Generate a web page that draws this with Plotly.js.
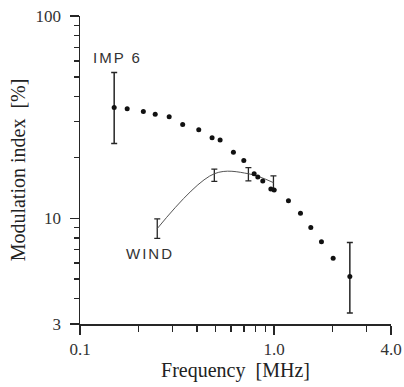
<!DOCTYPE html>
<html>
<head>
<meta charset="utf-8">
<script src="https://cdn.plot.ly/plotly-3.0.1.min.js"></script>
<style>html,body{margin:0;padding:0;background:#fff;}#chart{width:404px;height:387px;}</style>
</head>
<body>
<div id="chart"></div>
<script>
// IMP 6 measurements
var impFreq = [0.150, 0.175, 0.212, 0.244, 0.288, 0.338, 0.409, 0.479, 0.527, 0.617, 0.698, 0.789, 0.824, 0.874, 0.962, 1.0, 1.185, 1.367, 1.545, 1.753, 2.014, 2.455];
var impVal  = [35.3, 34.8, 33.7, 32.7, 31.8, 29.1, 27.4, 25.0, 24.4, 21.2, 19.3, 16.6, 16.0, 15.3, 13.95, 13.8, 12.2, 10.6, 8.99, 7.66, 6.35, 5.15];
// error bar limits (only first and last points)
var impErrFreq  = [0.150, 2.455];
var impErrVal   = [35.3, 5.15];
var impErrUpper = [52.6, 7.58];
var impErrLower = [23.4, 3.40];

// WIND measurements
var windFreq  = [0.250, 0.492, 0.737, 0.992];
var windVal   = [8.89, 16.6, 16.6, 15.0];
var windUpper = [9.92, 17.5, 17.8, 16.2];
var windLower = [7.96, 15.2, 15.3, 13.8];

// axis ticks
var xTickVals = [0.1, 1, 4];
var xTickText = ['0.1', '1.0', '4.0'];
var xMinorVals = [0.2, 0.3, 0.4, 0.5, 0.6, 0.7, 0.8, 0.9, 2, 3];
var yTickVals = [3, 10, 100];
var yTickText = ['3', '10', '100'];
var yMinorVals = [4, 5, 6, 7, 8, 9, 20, 30, 40, 50, 60, 70, 80, 90];

function diff(a, b) { return a.map(function (v, i) { return v - b[i]; }); }

var ink = '#262626';
var serif = '"Liberation Serif", "Times New Roman", serif';

var traces = [
  {
    x: windFreq, y: windVal, mode: 'lines', type: 'scatter',
    line: {shape: 'spline', smoothing: 1, color: '#555', width: 1},
    error_y: {type: 'data', symmetric: false, array: diff(windUpper, windVal), arrayminus: diff(windVal, windLower),
      color: ink, thickness: 1.3, width: 3},
    hoverinfo: 'skip', showlegend: false
  },
  {
    x: impErrFreq, y: impErrVal, mode: 'markers', type: 'scatter',
    marker: {size: 0.1, color: ink},
    error_y: {type: 'data', symmetric: false, array: diff(impErrUpper, impErrVal), arrayminus: diff(impErrVal, impErrLower),
      color: ink, thickness: 1.5, width: 3},
    hoverinfo: 'skip', showlegend: false
  },
  {
    x: impFreq, y: impVal, mode: 'markers', type: 'scatter',
    marker: {size: 5, color: '#111'},
    showlegend: false
  }
];

var axisCommon = {
  type: 'log', showgrid: false, zeroline: false, showline: true, linecolor: ink, linewidth: 1.5,
  ticks: 'outside', ticklen: 9, tickwidth: 1.3, tickcolor: ink, mirror: false,
  tickfont: {family: serif, size: 17, color: '#333'}
};

var layout = {
  width: 404, height: 387,
  margin: {l: 80, r: 13, t: 16, b: 63},
  paper_bgcolor: '#fff', plot_bgcolor: '#fff',
  xaxis: Object.assign({}, axisCommon, {
    range: [-1, Math.log10(4)], tickmode: 'array', tickvals: xTickVals, ticktext: xTickText,
    minor: {tickmode: 'array', tickvals: xMinorVals, ticks: 'outside', ticklen: 6, tickwidth: 1.3, tickcolor: ink},
    title: {text: 'Frequency\u00a0\u00a0[MHz]', font: {family: serif, size: 20, color: '#222'}, standoff: 4}
  }),
  yaxis: Object.assign({}, axisCommon, {
    range: [Math.log10(3), 2], tickmode: 'array', tickvals: yTickVals, ticktext: yTickText,
    ticklabelstandoff: 5,
    minor: {tickmode: 'array', tickvals: yMinorVals, ticks: 'outside', ticklen: 5, tickwidth: 1.3, tickcolor: ink},
    title: {text: 'Modulation index\u00a0\u00a0[%]', font: {family: serif, size: 20, color: '#222'}, standoff: 4}
  }),
  annotations: [
    {xref: 'paper', yref: 'paper', x: 0.122, y: 0.8645, xanchor: 'center', yanchor: 'middle', showarrow: false,
      text: '<span style="letter-spacing:2px">IMP 6</span>', font: {family: 'Liberation Sans, Arial, sans-serif', size: 15, color: '#333'}},
    {xref: 'paper', yref: 'paper', x: 0.226, y: 0.2285, xanchor: 'center', yanchor: 'middle', showarrow: false,
      text: '<span style="letter-spacing:2px">WIND</span>', font: {family: 'Liberation Sans, Arial, sans-serif', size: 15, color: '#333'}}
  ]
};

Plotly.newPlot('chart', traces, layout, {displayModeBar: false, staticPlot: true});
</script>
</body>
</html>
